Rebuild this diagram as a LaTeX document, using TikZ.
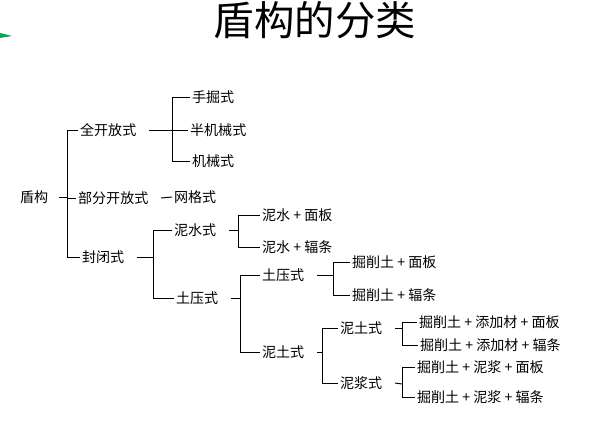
\documentclass[tikz,border=0pt]{standalone}
\usepackage{fontspec}
\setmainfont{Noto Sans CJK SC}
\usetikzlibrary{positioning}
\tikzset{
  leaf/.style={anchor=west, inner sep=1pt, font=\fontsize{8}{9}\selectfont},
  link/.style={line width=0.55pt},
}
\begin{document}
\begin{tikzpicture}[x=0.02cm, y=-0.02cm]
\useasboundingbox (0,0) rectangle (600,432);
\fill[teal!70!green] (0,33) -- (12,36) -- (0,38) -- cycle;

% --- Title ---
\node[font=\fontsize{23}{26}\selectfont] (title) at (315,20) {盾构的分类};

% --- Level 0 and 1 ---
\node[leaf] (dg) at (18,197) {盾构};
\node[leaf] (qkf) at (78,130) {全开放式};
\node[leaf] (bfk) at (76,198) {部分开放式};
\node[leaf] (fb) at (80,257) {封闭式};
\coordinate (j0) at (67,197);
\draw[link] ([xshift=5]dg.east) -- (j0);
\foreach \c in {qkf,bfk,fb} \draw[link] (j0) |- (\c.west);

% --- Full open ---
\node[leaf] (sj) at (190,97) {手掘式};
\node[leaf] (bjx) at (188,130) {半机械式};
\node[leaf] (jx) at (190,161) {机械式};
\coordinate (j1) at (172,130);
\draw[link] ([xshift=6]qkf.east) -- (j1);
\foreach \c in {sj,bjx,jx} \draw[link] (j1) |- (\c.west);

% --- Partly open ---
\node[leaf] (wg) at (172,197) {网格式};
\draw[link] ([xshift=6]bfk.east) -- (wg.west);

% --- Closed ---
\node[leaf] (ns) at (172,230) {泥水式};
\node[leaf] (ty) at (174,298) {土压式};
\coordinate (j2) at (153,257);
\draw[link] ([xshift=6]fb.east) -- (j2);
\foreach \c in {ns,ty} \draw[link] (j2) |- (\c.west);

\node[leaf] (nsm) at (260,215) {泥水 + 面板};
\node[leaf] (nsf) at (260,247) {泥水 + 辐条};
\coordinate (j3) at (238,230);
\draw[link] ([xshift=6]ns.east) -- (j3);
\foreach \c in {nsm,nsf} \draw[link] (j3) |- (\c.west);

\node[leaf] (tyb) at (260,275) {土压式};
\node[leaf] (nt) at (260,352) {泥土式};
\coordinate (j4) at (240,298);
\draw[link] ([xshift=6]ty.east) -- (j4);
\foreach \c in {tyb,nt} \draw[link] (j4) |- (\c.west);

\node[leaf] (tym) at (350,262) {掘削土 + 面板};
\node[leaf] (tyf) at (350,295) {掘削土 + 辐条};
\coordinate (j5) at (333,275);
\draw[link] ([xshift=6]tyb.east) -- (j5);
\foreach \c in {tym,tyf} \draw[link] (j5) |- (\c.west);

\node[leaf] (ntb) at (338,328) {泥土式};
\node[leaf] (nj) at (338,383) {泥浆式};
\coordinate (j6) at (322,352);
\draw[link] ([xshift=6]nt.east) -- (j6);
\foreach \c in {ntb,nj} \draw[link] (j6) |- (\c.west);

\node[leaf] (ntm) at (417,322) {掘削土 + 添加材 + 面板};
\node[leaf] (ntf) at (418,345) {掘削土 + 添加材 + 辐条};
\coordinate (j7) at (402,328);
\draw[link] ([xshift=6]ntb.east) -- (j7);
\foreach \c in {ntm,ntf} \draw[link] (j7) |- (\c.west);

\node[leaf] (njm) at (415,367) {掘削土 + 泥浆 + 面板};
\node[leaf] (njf) at (415,397) {掘削土 + 泥浆 + 辐条};
\coordinate (j8) at (402,384);
\draw[link] ([xshift=6]nj.east) -- (j8);
\foreach \c in {njm,njf} \draw[link] (j8) |- (\c.west);
\end{tikzpicture}
\end{document}
